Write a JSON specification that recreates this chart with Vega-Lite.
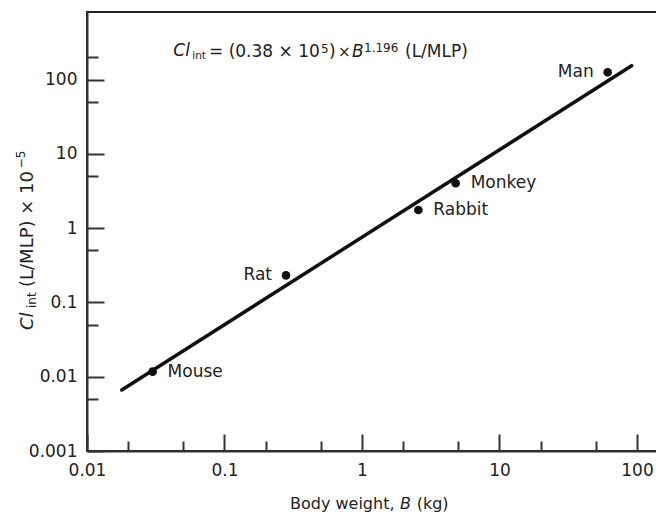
{
  "$schema": "https://vega.github.io/schema/vega-lite/v6.json",
  "width": 573,
  "height": 439,
  "autosize": "none",
  "padding": {"left": 87, "top": 12, "right": 0, "bottom": 66},
  "background": "white",
  "config": {
    "font": "DejaVu Sans",
    "view": {"stroke": "#222", "strokeWidth": 2},
    "text": {"color": "#222"}
  },
  "datasets": {
    "animals": [
      {"name": "Mouse", "B": 0.03, "Cl": 0.0117},
      {"name": "Rat", "B": 0.28, "Cl": 0.231},
      {"name": "Rabbit", "B": 2.57, "Cl": 1.75},
      {"name": "Monkey", "B": 4.8, "Cl": 4.01},
      {"name": "Man", "B": 61.2, "Cl": 125}
    ],
    "fit": [
      {"B": 0.0179, "Cl": 0.00662},
      {"B": 91.4, "Cl": 153.4}
    ],
    "plain17": [
      {"t": "= (0.38 × 10", "B": 0.07715, "Cl": 203.9},
      {"t": ")", "B": 0.5754, "Cl": 203.9},
      {"t": "(L/MLP)", "B": 2.055, "Cl": 203.9}
    ],
    "times": [
      {"t": "×", "B": 0.669, "Cl": 203.9}
    ],
    "italic17": [
      {"t": "Cl", "B": 0.04242, "Cl": 207.2},
      {"t": "B", "B": 0.846, "Cl": 203.9}
    ],
    "plain16": [
      {"t": "Body weight,", "B": 0.2996, "Cl": 0.0001658},
      {"t": "(kg)", "B": 2.499, "Cl": 0.0001658}
    ],
    "italic16": [
      {"t": "B", "B": 1.889, "Cl": 0.0001658}
    ],
    "sub": [
      {"t": "int", "B": 0.05832, "Cl": 185.9}
    ],
    "sup": [
      {"t": "5", "B": 0.5032, "Cl": 227.4},
      {"t": "1.196", "B": 1.034, "Cl": 234.5}
    ],
    "ytitle": [
      {"t": "(L/MLP) × 10", "B": 0.00405, "Cl": 0.1612}
    ],
    "ytitleItalic": [
      {"t": "Cl", "B": 0.00405, "Cl": 0.04252}
    ],
    "ytitleSmall": [
      {"t": "int", "B": 0.004258, "Cl": 0.08406},
      {"t": "−5", "B": 0.00354, "Cl": 6.377}
    ]
  },
  "encoding": {
    "x": {
      "field": "B",
      "type": "quantitative",
      "scale": {"type": "log", "domain": [0.01, 147], "nice": false},
      "axis": {
        "values": [0.01, 0.02, 0.05, 0.1, 0.2, 0.5, 1, 2, 5, 10, 20, 50, 100],
        "title": null,
        "grid": false,
        "labelExpr": "abs(log(datum.value)/LN10 - round(log(datum.value)/LN10)) < 0.001 ? format(datum.value, '~g') : ''",
        "tickSize": {"condition": {"test": "abs(log(datum.value)/LN10 - round(log(datum.value)/LN10)) < 0.001", "value": -17}, "value": -10},
        "labelPadding": 28,
        "labelFontSize": 17,
        "labelColor": "#222",
        "labelFlush": false,
        "labelOverlap": false,
        "domainColor": "#333",
        "domainWidth": 2,
        "tickColor": "#333",
        "tickWidth": 2
      }
    },
    "y": {
      "field": "Cl",
      "type": "quantitative",
      "scale": {"type": "log", "domain": [0.001, 810], "nice": false},
      "axis": {
        "values": [0.001, 0.005, 0.01, 0.05, 0.1, 0.5, 1, 5, 10, 50, 100, 200],
        "title": null,
        "grid": false,
        "labelExpr": "abs(log(datum.value)/LN10 - round(log(datum.value)/LN10)) < 0.001 ? format(datum.value, '~g') : ''",
        "tickSize": {"condition": {"test": "abs(log(datum.value)/LN10 - round(log(datum.value)/LN10)) < 0.001", "value": -17}, "value": -11},
        "labelPadding": 27,
        "labelFontSize": 17,
        "labelColor": "#222",
        "labelFlush": false,
        "labelOverlap": false,
        "domainColor": "#333",
        "domainWidth": 2,
        "tickColor": "#333",
        "tickWidth": 2
      }
    }
  },
  "layer": [
    {
      "data": {"name": "fit"},
      "mark": {"type": "line", "color": "#111", "strokeWidth": 3.5, "strokeCap": "round"},
      "encoding": {}
    },
    {
      "data": {"name": "animals"},
      "mark": {"type": "circle", "color": "#111", "opacity": 1, "size": 75},
      "encoding": {}
    },
    {
      "data": {"name": "animals"},
      "transform": [{"filter": {"field": "name", "oneOf": ["Mouse", "Rabbit", "Monkey"]}}],
      "mark": {"type": "text", "align": "left", "baseline": "middle", "dx": 15, "fontSize": 17, "color": "#222"},
      "encoding": {"text": {"field": "name"}}
    },
    {
      "data": {"name": "animals"},
      "transform": [{"filter": {"field": "name", "oneOf": ["Rat", "Man"]}}],
      "mark": {"type": "text", "align": "right", "baseline": "middle", "dx": -14, "fontSize": 17, "color": "#222"},
      "encoding": {"text": {"field": "name"}}
    },
    {
      "data": {"name": "plain17"},
      "mark": {"type": "text", "align": "left", "baseline": "alphabetic", "fontSize": 17, "color": "#222"},
      "encoding": {"text": {"field": "t"}}
    },
    {
      "data": {"name": "times"},
      "mark": {"type": "text", "align": "left", "baseline": "alphabetic", "fontSize": 15, "color": "#222"},
      "encoding": {"text": {"field": "t"}}
    },
    {
      "data": {"name": "italic17"},
      "mark": {"type": "text", "align": "left", "baseline": "alphabetic", "fontSize": 17, "fontStyle": "italic", "color": "#222"},
      "encoding": {"text": {"field": "t"}}
    },
    {
      "data": {"name": "plain16"},
      "mark": {"type": "text", "align": "left", "baseline": "alphabetic", "fontSize": 16, "color": "#222"},
      "encoding": {"text": {"field": "t"}}
    },
    {
      "data": {"name": "italic16"},
      "mark": {"type": "text", "align": "left", "baseline": "alphabetic", "fontSize": 16, "fontStyle": "italic", "color": "#222"},
      "encoding": {"text": {"field": "t"}}
    },
    {
      "data": {"name": "sub"},
      "mark": {"type": "text", "align": "left", "baseline": "alphabetic", "fontSize": 10.5, "color": "#222"},
      "encoding": {"text": {"field": "t"}}
    },
    {
      "data": {"name": "sup"},
      "mark": {"type": "text", "align": "left", "baseline": "alphabetic", "fontSize": 12, "color": "#222"},
      "encoding": {"text": {"field": "t"}}
    },
    {
      "data": {"name": "ytitle"},
      "mark": {"type": "text", "align": "left", "baseline": "alphabetic", "angle": 270, "fontSize": 18, "color": "#222"},
      "encoding": {"text": {"field": "t"}}
    },
    {
      "data": {"name": "ytitleItalic"},
      "mark": {"type": "text", "align": "left", "baseline": "alphabetic", "angle": 270, "fontSize": 18, "fontStyle": "italic", "color": "#222"},
      "encoding": {"text": {"field": "t"}}
    },
    {
      "data": {"name": "ytitleSmall"},
      "mark": {"type": "text", "align": "left", "baseline": "alphabetic", "angle": 270, "fontSize": 12, "color": "#222"},
      "encoding": {"text": {"field": "t"}}
    }
  ]
}
